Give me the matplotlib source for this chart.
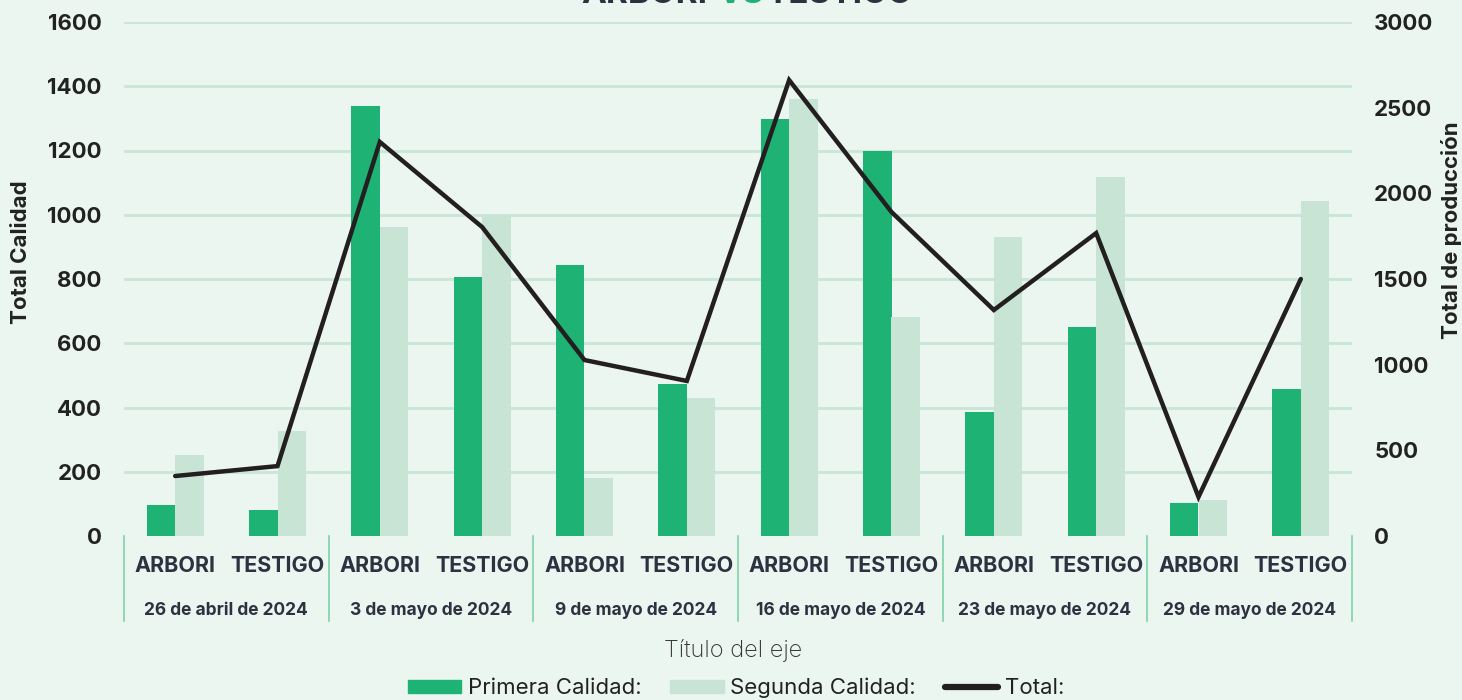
import matplotlib.pyplot as plt
from matplotlib.patches import Patch
from matplotlib.lines import Line2D
import numpy as np

plt.rcParams['font.family'] = ['Inter', 'DejaVu Sans']

# data
fechas = ['26 de abril de 2024', '3 de mayo de 2024', '9 de mayo de 2024',
          '16 de mayo de 2024', '23 de mayo de 2024', '29 de mayo de 2024']
tratamientos = ['ARBORI', 'TESTIGO']
primera = [97, 80, 1337, 805, 845, 473, 1298, 1198, 386, 650, 103, 457]
segunda = [252, 327, 962, 1000, 180, 430, 1360, 682, 931, 1117, 112, 1043]
total = [350, 408, 2300, 1803, 1027, 905, 2661, 1891, 1319, 1768, 228, 1500]

bg = '#EBF6F0'
verde = '#1FB275'
verde_claro = '#C8E4D4'
grid_c = '#C9E6D6'
texto = '#222222'
texto_cat = '#2E3140'

fig = plt.figure(figsize=(14.62, 7.0), dpi=100, facecolor=bg)
ax = fig.add_axes([124 / 1462, 1 - 536 / 700, 1228 / 1462, 514 / 700])
ax.set_facecolor(bg)

x = np.arange(len(primera))
w = 0.28
ax.bar(x - w / 2, primera, w, color=verde, zorder=2)
ax.bar(x + w / 2, segunda, w, color=verde_claro, zorder=2)

ax.set_xlim(-0.5, len(primera) - 0.5)
ax.set_ylim(0, 1600)
ax.set_yticks(range(0, 1601, 200))
ax.set_yticklabels([str(v) for v in range(0, 1601, 200)], fontsize=16, fontweight='bold', color=texto)
for v in range(200, 1601, 200):
    ax.axhline(v, color=grid_c, lw=2, zorder=1)
ax.tick_params(axis='y', length=0, pad=16)
ax.set_xticks([])
for s in ax.spines.values():
    s.set_visible(False)

ax2 = ax.twinx()
ax2.plot(x, total, color='#231F20', lw=3.2, solid_capstyle='round', solid_joinstyle='miter', zorder=3)
ax2.set_ylim(0, 3000)
ax2.set_yticks(range(0, 3001, 500))
ax2.set_yticklabels([str(v) for v in range(0, 3001, 500)], fontsize=16, fontweight='bold', color=texto)
ax2.tick_params(axis='y', length=0, pad=16)
for s in ax2.spines.values():
    s.set_visible(False)

# titulos de ejes
fig.text(21 / 1462, 1 - 252 / 700, 'Total Calidad', rotation=90, ha='center', va='center',
         fontsize=16, fontweight='bold', color=texto)
fig.text(1451 / 1462, 1 - 230 / 700, 'Total de producción', rotation=90, ha='center', va='center',
         fontsize=16, fontweight='bold', color=texto)

# etiquetas de categorias
trans = ax.get_xaxis_transform()
for i in x:
    ax.text(i, -0.058, tratamientos[i % 2], transform=trans, ha='center', va='center',
            fontsize=15.5, fontweight='bold', color=texto_cat)
for g, f in enumerate(fechas):
    ax.text(2 * g + 0.5, -0.144, f, transform=trans, ha='center', va='center',
            fontsize=12.5, fontweight='bold', color=texto_cat)
for b in np.arange(-0.5, len(primera), 2):
    ax.plot([b, b], [0, -0.165], transform=trans, color='#7FD1AA', lw=1.2, clip_on=False)

fig.text(733 / 1462, 1 - 651 / 700, 'Título del eje', ha='center', va='center',
         fontsize=17, fontweight='light', color='#333333')

# titulo cortado arriba
ty = 1.0085
fig.text(707 / 1462, ty, 'ARBORI', ha='right', va='center', fontsize=24, fontweight='bold', color='#2E3140')
fig.text(717 / 1462, ty, 'VS', ha='left', va='center', fontsize=24, fontweight='bold', color=verde)
fig.text(767 / 1462, ty, 'TESTIGO', ha='left', va='center', fontsize=24, fontweight='bold', color='#2E3140')

handles = [Patch(color=verde, label='Primera Calidad:'),
           Patch(color=verde_claro, label='Segunda Calidad:'),
           Line2D([0], [0], color='#231F20', lw=4.5, solid_capstyle='round', label='Total:')]
fig.legend(handles=handles, loc='center', bbox_to_anchor=(736 / 1462, 1 - 688 / 700), ncol=3,
           frameon=False, fontsize=16, handlelength=2.4, handleheight=0.55, columnspacing=1.3,
           handletextpad=0.3, labelcolor='#222222')

fig.savefig('out.png', dpi=100, facecolor=bg)
